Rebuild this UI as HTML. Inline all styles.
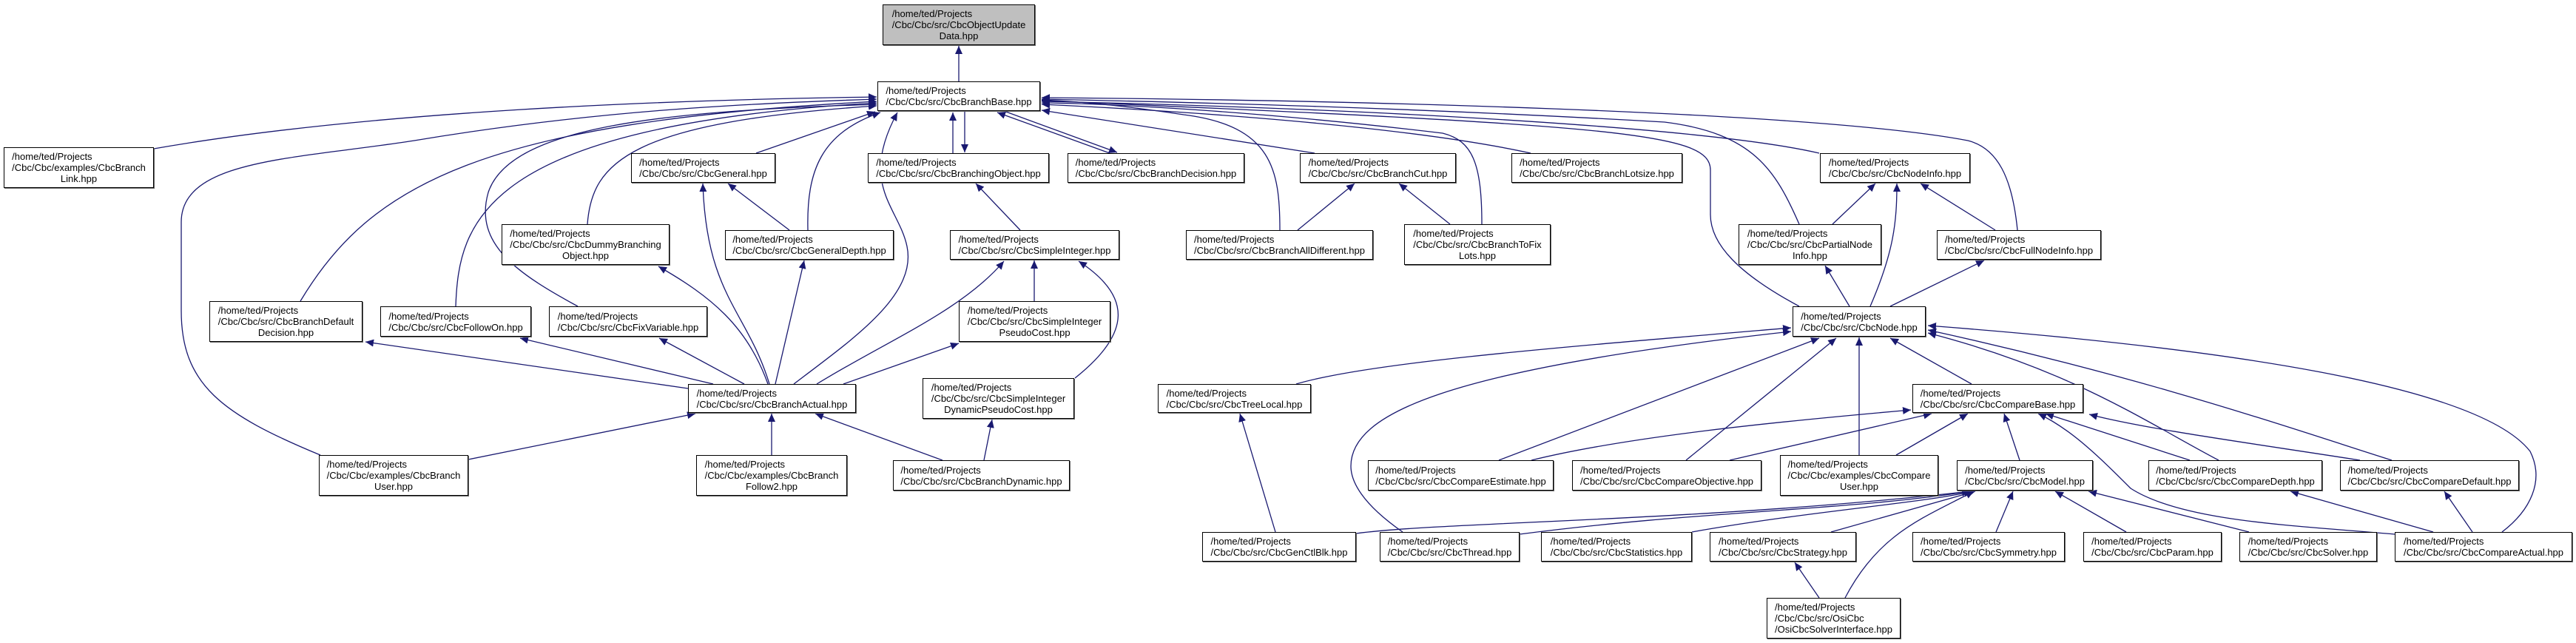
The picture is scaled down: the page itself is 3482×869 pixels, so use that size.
<!DOCTYPE html>
<html><head><meta charset="utf-8"><style>
html,body{margin:0;padding:0;background:#fff;}
#c{position:relative;width:3482px;height:869px;overflow:hidden;background:#fff;}
svg{position:absolute;left:0;top:0;}
.n{position:absolute;box-sizing:border-box;border:1px solid #000;background:#fff;display:flex;align-items:center;justify-content:center;font-family:"Liberation Sans",Arial,sans-serif;font-size:13px;line-height:15px;white-space:nowrap;color:#000;box-shadow:1px 1px 0 #666;}
.n span{display:inline-block;text-align:left;}
.n span i{display:block;font-style:normal;text-align:center;}
.g{background:#bfbfbf;}
</style></head><body><div id="c">
<svg width="3482" height="869" viewBox="0 0 3482 869">
<defs><marker id="a" markerUnits="userSpaceOnUse" markerWidth="12" markerHeight="10" refX="11" refY="5" orient="auto"><path d="M0,0 L11,5 L0,10 z" fill="#191970"/></marker></defs>
<g fill="none" stroke="#191970" stroke-width="1.3" marker-end="url(#a)">
<path d="M1296,110 L1296,62"/>
<path d="M208,201 C500,150 900,135 1185,131"/>
<path d="M433,615 C300,560 245,520 245,420 L245,300 C245,215 400,215 560,190 C800,150 1000,140 1185,134"/>
<path d="M406,407 C500,250 650,165 1185,137"/>
<path d="M616,414 C620,300 650,170 1185,139"/>
<path d="M781,414 C700,370 640,330 660,260 C690,170 900,150 1185,141"/>
<path d="M794,303 C800,220 850,165 1185,143"/>
<path d="M1022,207 L1183,151"/>
<path d="M1092,311 C1090,230 1110,180 1190,152"/>
<path d="M1073,519 C1150,460 1240,400 1226,333 C1215,280 1160,250 1213,152"/>
<path d="M1040,519 C1010,420 955,400 950,248"/>
<path d="M1048,519 L1087,352"/>
<path d="M1104,519 C1200,460 1300,420 1357,353"/>
<path d="M1140,519 L1296,464"/>
<path d="M1006,519 L891,457"/>
<path d="M964,519 L703,457"/>
<path d="M930,525 L494,462"/>
<path d="M1038,519 C1010,440 960,400 890,360"/>
<path d="M1288,207 L1288,152"/>
<path d="M1304,150 L1304,206"/>
<path d="M1500,207 L1348,152"/>
<path d="M1357,150 L1510,206"/>
<path d="M1730,311 C1730,230 1720,170 1600,155 C1500,140 1450,137 1408,135"/>
<path d="M1777,207 L1408,149"/>
<path d="M2003,303 C2003,220 1990,190 1950,180 C1700,150 1500,140 1408,139"/>
<path d="M2069,207 C1900,170 1600,150 1408,141"/>
<path d="M2459,207 C2300,170 1800,145 1408,137"/>
<path d="M2432,303 C2400,230 2370,180 2250,165 C1900,145 1600,138 1408,134"/>
<path d="M2727,311 C2720,240 2700,200 2660,190 C2450,150 1800,135 1408,132"/>
<path d="M2432,414 C2350,370 2312,330 2312,290 L2312,230 C2312,180 2200,170 1408,136"/>
<path d="M2477,303 L2535,248"/>
<path d="M2697,311 L2596,248"/>
<path d="M2528,414 C2560,340 2564,300 2564,248"/>
<path d="M2500,414 L2467,359"/>
<path d="M2555,414 L2682,352"/>
<path d="M1752,519 C1850,490 2100,470 2421,443"/>
<path d="M1896,719 C1840,680 1826,650 1826,630 C1826,560 1950,500 2421,448"/>
<path d="M2026,622 L2459,457"/>
<path d="M2279,622 L2482,457"/>
<path d="M2513,615 L2513,456"/>
<path d="M2665,519 L2555,457"/>
<path d="M2999,622 C2900,570 2800,500 2606,450"/>
<path d="M3233,622 C3100,580 2900,510 2606,446"/>
<path d="M3382,719 C3420,690 3440,650 3420,610 C3350,520 3000,470 2606,440"/>
<path d="M2070,622 C2200,590 2400,570 2583,554"/>
<path d="M2338,622 L2611,559"/>
<path d="M2563,615 L2660,559"/>
<path d="M2730,622 L2709,559"/>
<path d="M2960,622 L2765,559"/>
<path d="M3190,622 C3050,600 2900,580 2824,560"/>
<path d="M3237,722 C3100,710 2950,705 2880,660 C2840,620 2800,580 2755,559"/>
<path d="M1833,721 C1950,705 2300,705 2663,664"/>
<path d="M2054,722 C2300,690 2500,690 2663,664"/>
<path d="M2287,719 C2450,690 2600,680 2666,664"/>
<path d="M2475,719 L2670,664"/>
<path d="M2494,808 C2540,720 2600,700 2668,664"/>
<path d="M2698,719 L2721,664"/>
<path d="M2874,719 L2778,664"/>
<path d="M3040,719 L2823,664"/>
<path d="M2459,808 L2426,760"/>
<path d="M1724,719 L1676,559"/>
<path d="M3289,719 L3096,664"/>
<path d="M3342,719 L3304,664"/>
<path d="M633,621 L940,559"/>
<path d="M1043,615 L1043,559"/>
<path d="M1274,622 L1102,559"/>
<path d="M1330,622 L1341,567"/>
<path d="M1453,511 C1530,450 1530,400 1458,353"/>
<path d="M1398,407 L1398,352"/>
<path d="M1379,311 L1319,248"/>
<path d="M1067,311 L984,248"/>
<path d="M1754,311 L1831,248"/>
<path d="M1960,303 L1891,248"/>
</g></svg>

<div class="n g" style="left:1193px;top:6px;width:206px;height:55px"><span>/home/ted/Projects<br>/Cbc/Cbc/src/CbcObjectUpdate<i>Data.hpp</i></span></div>
<div class="n" style="left:1186px;top:110px;width:220px;height:40px"><span>/home/ted/Projects<br>/Cbc/Cbc/src/CbcBranchBase.hpp</span></div>
<div class="n" style="left:5px;top:199px;width:203px;height:55px"><span>/home/ted/Projects<br>/Cbc/Cbc/examples/CbcBranch<i>Link.hpp</i></span></div>
<div class="n" style="left:853px;top:207px;width:195px;height:40px"><span>/home/ted/Projects<br>/Cbc/Cbc/src/CbcGeneral.hpp</span></div>
<div class="n" style="left:1173px;top:207px;width:245px;height:40px"><span>/home/ted/Projects<br>/Cbc/Cbc/src/CbcBranchingObject.hpp</span></div>
<div class="n" style="left:1443px;top:207px;width:239px;height:40px"><span>/home/ted/Projects<br>/Cbc/Cbc/src/CbcBranchDecision.hpp</span></div>
<div class="n" style="left:1757px;top:207px;width:211px;height:40px"><span>/home/ted/Projects<br>/Cbc/Cbc/src/CbcBranchCut.hpp</span></div>
<div class="n" style="left:2043px;top:207px;width:231px;height:40px"><span>/home/ted/Projects<br>/Cbc/Cbc/src/CbcBranchLotsize.hpp</span></div>
<div class="n" style="left:2460px;top:207px;width:203px;height:40px"><span>/home/ted/Projects<br>/Cbc/Cbc/src/CbcNodeInfo.hpp</span></div>
<div class="n" style="left:678px;top:303px;width:227px;height:55px"><span>/home/ted/Projects<br>/Cbc/Cbc/src/CbcDummyBranching<i>Object.hpp</i></span></div>
<div class="n" style="left:980px;top:311px;width:228px;height:40px"><span>/home/ted/Projects<br>/Cbc/Cbc/src/CbcGeneralDepth.hpp</span></div>
<div class="n" style="left:1284px;top:311px;width:229px;height:40px"><span>/home/ted/Projects<br>/Cbc/Cbc/src/CbcSimpleInteger.hpp</span></div>
<div class="n" style="left:1603px;top:311px;width:253px;height:40px"><span>/home/ted/Projects<br>/Cbc/Cbc/src/CbcBranchAllDifferent.hpp</span></div>
<div class="n" style="left:1898px;top:303px;width:198px;height:55px"><span>/home/ted/Projects<br>/Cbc/Cbc/src/CbcBranchToFix<i>Lots.hpp</i></span></div>
<div class="n" style="left:2350px;top:303px;width:193px;height:55px"><span>/home/ted/Projects<br>/Cbc/Cbc/src/CbcPartialNode<i>Info.hpp</i></span></div>
<div class="n" style="left:2618px;top:311px;width:222px;height:40px"><span>/home/ted/Projects<br>/Cbc/Cbc/src/CbcFullNodeInfo.hpp</span></div>
<div class="n" style="left:283px;top:407px;width:207px;height:55px"><span>/home/ted/Projects<br>/Cbc/Cbc/src/CbcBranchDefault<i>Decision.hpp</i></span></div>
<div class="n" style="left:514px;top:414px;width:204px;height:41px"><span>/home/ted/Projects<br>/Cbc/Cbc/src/CbcFollowOn.hpp</span></div>
<div class="n" style="left:742px;top:414px;width:214px;height:41px"><span>/home/ted/Projects<br>/Cbc/Cbc/src/CbcFixVariable.hpp</span></div>
<div class="n" style="left:1296px;top:407px;width:205px;height:55px"><span>/home/ted/Projects<br>/Cbc/Cbc/src/CbcSimpleInteger<i>PseudoCost.hpp</i></span></div>
<div class="n" style="left:2423px;top:414px;width:180px;height:41px"><span>/home/ted/Projects<br>/Cbc/Cbc/src/CbcNode.hpp</span></div>
<div class="n" style="left:930px;top:519px;width:227px;height:39px"><span>/home/ted/Projects<br>/Cbc/Cbc/src/CbcBranchActual.hpp</span></div>
<div class="n" style="left:1247px;top:511px;width:205px;height:55px"><span>/home/ted/Projects<br>/Cbc/Cbc/src/CbcSimpleInteger<i>DynamicPseudoCost.hpp</i></span></div>
<div class="n" style="left:1565px;top:519px;width:207px;height:39px"><span>/home/ted/Projects<br>/Cbc/Cbc/src/CbcTreeLocal.hpp</span></div>
<div class="n" style="left:2585px;top:519px;width:231px;height:39px"><span>/home/ted/Projects<br>/Cbc/Cbc/src/CbcCompareBase.hpp</span></div>
<div class="n" style="left:431px;top:615px;width:202px;height:55px"><span>/home/ted/Projects<br>/Cbc/Cbc/examples/CbcBranch<i>User.hpp</i></span></div>
<div class="n" style="left:941px;top:615px;width:204px;height:55px"><span>/home/ted/Projects<br>/Cbc/Cbc/examples/CbcBranch<i>Follow2.hpp</i></span></div>
<div class="n" style="left:1207px;top:622px;width:239px;height:41px"><span>/home/ted/Projects<br>/Cbc/Cbc/src/CbcBranchDynamic.hpp</span></div>
<div class="n" style="left:1849px;top:622px;width:251px;height:41px"><span>/home/ted/Projects<br>/Cbc/Cbc/src/CbcCompareEstimate.hpp</span></div>
<div class="n" style="left:2125px;top:622px;width:256px;height:41px"><span>/home/ted/Projects<br>/Cbc/Cbc/src/CbcCompareObjective.hpp</span></div>
<div class="n" style="left:2406px;top:615px;width:214px;height:55px"><span>/home/ted/Projects<br>/Cbc/Cbc/examples/CbcCompare<i>User.hpp</i></span></div>
<div class="n" style="left:2645px;top:622px;width:184px;height:41px"><span>/home/ted/Projects<br>/Cbc/Cbc/src/CbcModel.hpp</span></div>
<div class="n" style="left:2904px;top:622px;width:235px;height:41px"><span>/home/ted/Projects<br>/Cbc/Cbc/src/CbcCompareDepth.hpp</span></div>
<div class="n" style="left:3163px;top:622px;width:242px;height:41px"><span>/home/ted/Projects<br>/Cbc/Cbc/src/CbcCompareDefault.hpp</span></div>
<div class="n" style="left:1625px;top:719px;width:208px;height:40px"><span>/home/ted/Projects<br>/Cbc/Cbc/src/CbcGenCtlBlk.hpp</span></div>
<div class="n" style="left:1865px;top:719px;width:189px;height:40px"><span>/home/ted/Projects<br>/Cbc/Cbc/src/CbcThread.hpp</span></div>
<div class="n" style="left:2083px;top:719px;width:204px;height:40px"><span>/home/ted/Projects<br>/Cbc/Cbc/src/CbcStatistics.hpp</span></div>
<div class="n" style="left:2311px;top:719px;width:198px;height:40px"><span>/home/ted/Projects<br>/Cbc/Cbc/src/CbcStrategy.hpp</span></div>
<div class="n" style="left:2585px;top:719px;width:206px;height:40px"><span>/home/ted/Projects<br>/Cbc/Cbc/src/CbcSymmetry.hpp</span></div>
<div class="n" style="left:2816px;top:719px;width:187px;height:40px"><span>/home/ted/Projects<br>/Cbc/Cbc/src/CbcParam.hpp</span></div>
<div class="n" style="left:3027px;top:719px;width:186px;height:40px"><span>/home/ted/Projects<br>/Cbc/Cbc/src/CbcSolver.hpp</span></div>
<div class="n" style="left:3237px;top:719px;width:240px;height:40px"><span>/home/ted/Projects<br>/Cbc/Cbc/src/CbcCompareActual.hpp</span></div>
<div class="n" style="left:2388px;top:808px;width:181px;height:55px"><span>/home/ted/Projects<br>/Cbc/Cbc/src/OsiCbc<br>/OsiCbcSolverInterface.hpp</span></div>
</div></body></html>
